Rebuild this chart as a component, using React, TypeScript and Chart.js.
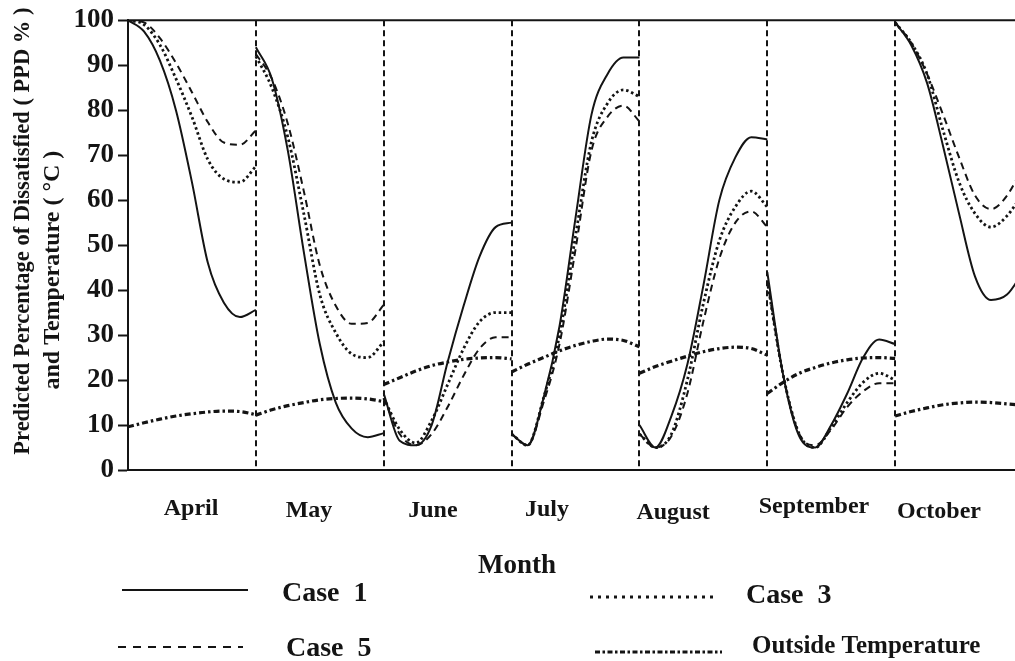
import React, { useEffect, useRef } from "react";
import { Chart, registerables } from "chart.js";

Chart.register(...registerables);

// ---------- data ----------
const months = ["April", "May", "June", "July", "August", "September", "October"];
const yTickValues = [0, 10, 20, 30, 40, 50, 60, 70, 80, 90, 100];

// nine readings per month, evenly spread from the first to the last day
const case1: number[][] = [
  [100, 97.5, 91, 80, 64, 46, 37.2, 34, 35.6],
  [94, 87, 71, 48.5, 28, 15, 9.2, 7.3, 8.2],
  [17, 6.5, 5.5, 10, 24, 36.5, 47.5, 54, 55],
  [8, 5.5, 16, 32, 56, 79, 88, 91.7, 91.7],
  [10, 5, 12, 23.5, 41, 60, 69.5, 74, 73.5],
  [44, 21, 7.5, 5, 10, 17, 25, 29, 28],
  [99.5, 94.5, 86, 72, 57, 43, 37.8, 39, 44],
];
const case3: number[][] = [
  [100, 99, 94.5, 87, 78.5, 69, 64.7, 64, 67.5],
  [92, 85, 74, 57, 39, 30.5, 25.8, 25, 28.5],
  [16, 9, 6, 11, 19, 27, 33, 35, 35],
  [8, 5.5, 16, 30, 52, 73, 81.5, 84.5, 83],
  [8, 5, 8, 20, 37, 51, 58.5, 62, 58.5],
  [42, 21, 8, 5, 9.5, 15, 19.5, 21.5, 20],
  [99.5, 95, 88, 75.5, 64, 57, 54, 56.5, 61.5],
];
const case5: number[][] = [
  [100, 99.5, 96, 90.5, 84, 77.3, 72.8, 72.3, 75.5],
  [92.5, 87, 77, 62, 45.5, 36.5, 32.5, 32.7, 36.7],
  [16, 8, 5.5, 8, 14, 21, 27, 29.5, 29.5],
  [8, 5.5, 15, 28, 49, 71, 78.5, 81, 77.5],
  [8, 5, 7.5, 17, 33, 47, 55, 57.5, 54],
  [42, 21, 8, 5.5, 9, 14, 17.5, 19.3, 19.3],
  [99.5, 95, 88, 79, 69.5, 61, 58, 61, 67.5],
];
const outsideTemp: number[][] = [
  [9.6, 10.5, 11.3, 12, 12.5, 12.9, 13.1, 13, 12.3],
  [12.2, 13.4, 14.3, 15, 15.6, 15.9, 16, 15.8, 15.2],
  [19, 20.5, 22, 23.2, 24, 24.6, 24.9, 25, 24.7],
  [21.8, 23.5, 25, 26.5, 27.7, 28.6, 29.1, 28.8, 27.4],
  [21.5, 23, 24.2, 25.3, 26.3, 27, 27.3, 27, 25.5],
  [17, 19.5, 21.5, 22.8, 23.8, 24.5, 24.9, 25, 24.8],
  [12, 13, 13.8, 14.5, 14.9, 15.1, 15, 14.7, 14.4],
];

const seriesNames = ["Case  1", "Case  3", "Case  5", "Outside Temperature"];

// ---------- layout / style ----------
const INK = "#141414";
const SERIF = "'Liberation Serif', 'Times New Roman', Times, serif";
const CANVAS_W = 1030;
const CANVAS_H = 661;
// where each month name sits, in month units along the x scale
const monthLabelAt = [0.493, 1.416, 2.385, 3.277, 4.263, 5.365, 6.343];
const monthLabelBaseline = [515, 517, 517, 516, 519, 513, 518];

const lineStyles = [
  { dash: [] as number[], width: 2, legendDash: [] as number[] },
  { dash: [2.5, 2.8], width: 2.8, legendDash: [3, 5] },
  { dash: [7, 5], width: 2, legendDash: [8, 7] },
  { dash: [6, 3, 2.5, 3], width: 3.2, legendDash: [5, 2.5, 2.5, 2.5] },
];

function toPoints(series: number[][]) {
  const pts: { x: number; y: number | null }[] = [];
  series.forEach((vals, m) => {
    vals.forEach((v, i) => pts.push({ x: m + i / (vals.length - 1), y: v }));
    if (m < series.length - 1) pts.push({ x: m + 1, y: null });
  });
  return pts;
}

const decorPlugin = {
  id: "decor",
  beforeDatasetsDraw(chart: any) {
    const { ctx, chartArea, scales } = chart;
    const x = scales.x;
    ctx.save();
    ctx.strokeStyle = INK;
    ctx.lineWidth = 2;
    ctx.beginPath();
    ctx.moveTo(chartArea.left, chartArea.top);
    ctx.lineTo(chartArea.right, chartArea.top);
    ctx.stroke();
    ctx.setLineDash([6, 4]);
    for (let m = 1; m < months.length; m++) {
      const px = Math.round(x.getPixelForValue(m));
      ctx.beginPath();
      ctx.moveTo(px, chartArea.top);
      ctx.lineTo(px, chartArea.bottom);
      ctx.stroke();
    }
    ctx.restore();
  },
  afterDraw(chart: any) {
    const { ctx, scales } = chart;
    const x = scales.x;
    const y = scales.y;
    ctx.save();
    ctx.fillStyle = INK;
    ctx.textAlign = "center";
    ctx.textBaseline = "alphabetic";

    // month names
    ctx.font = `bold 24px ${SERIF}`;
    months.forEach((name, i) => {
      ctx.fillText(name, x.getPixelForValue(monthLabelAt[i]), monthLabelBaseline[i]);
    });

    // axis title
    ctx.font = `bold 27px ${SERIF}`;
    ctx.fillText("Month", 517, 573);

    // y title (two rotated lines)
    ctx.textBaseline = "middle";
    const yMid = (y.top + y.bottom) / 2;
    ctx.save();
    ctx.font = `bold 22.5px ${SERIF}`;
    ctx.translate(23, yMid - 14);
    ctx.rotate(-Math.PI / 2);
    ctx.fillText("Predicted Percentage of Dissatisfied ( PPD % )", 0, 0);
    ctx.restore();
    ctx.save();
    ctx.font = `bold 24px ${SERIF}`;
    ctx.translate(53, yMid + 25);
    ctx.rotate(-Math.PI / 2);
    ctx.fillText("and Temperature ( \u00B0C )", 0, 0);
    ctx.restore();

    // legend
    const legend = [
      { x1: 122, x2: 248, ly: 590, tx: 282, ty: 601, size: 28 },
      { x1: 590, x2: 717, ly: 597, tx: 746, ty: 603, size: 28 },
      { x1: 118, x2: 243, ly: 647, tx: 286, ty: 656, size: 28 },
      { x1: 595, x2: 722, ly: 652, tx: 752, ty: 653, size: 25 },
    ];
    legend.forEach((l, i) => {
      const st = lineStyles[i];
      ctx.save();
      ctx.strokeStyle = INK;
      ctx.lineWidth = st.width;
      ctx.setLineDash(st.legendDash);
      ctx.beginPath();
      ctx.moveTo(l.x1, l.ly);
      ctx.lineTo(l.x2, l.ly);
      ctx.stroke();
      ctx.restore();
      ctx.textAlign = "left";
      ctx.textBaseline = "alphabetic";
      ctx.font = `bold ${l.size}px ${SERIF}`;
      ctx.fillText(seriesNames[i], l.tx, l.ty);
    });
    ctx.restore();
  },
};

export default function App() {
  const canvasRef = useRef<HTMLCanvasElement | null>(null);

  useEffect(() => {
    if (!canvasRef.current) return;
    const all = [case1, case3, case5, outsideTemp];
    const chart = new Chart(canvasRef.current, {
      type: "line",
      data: {
        datasets: all.map((s, i) => ({
          label: seriesNames[i],
          data: toPoints(s),
          borderColor: INK,
          borderWidth: lineStyles[i].width,
          borderDash: lineStyles[i].dash,
          pointRadius: 0,
          fill: false,
          spanGaps: false,
          cubicInterpolationMode: "monotone" as const,
        })),
      },
      options: {
        responsive: false,
        animation: false,
        devicePixelRatio: 1,
        layout: { padding: { left: 0, top: 20, right: 7, bottom: 0 } },
        plugins: {
          legend: { display: false },
          tooltip: { enabled: false },
        },
        scales: {
          x: {
            type: "linear",
            min: 0,
            max: months.length,
            grid: { display: false },
            ticks: { display: false },
            border: { display: true, color: INK, width: 2 },
            afterFit: (s: any) => {
              s.height = 191;
            },
          },
          y: {
            type: "linear",
            min: 0,
            max: 100,
            afterBuildTicks: (s: any) => {
              s.ticks = yTickValues.map((v) => ({ value: v }));
            },
            ticks: {
              color: INK,
              padding: 4,
              font: { family: SERIF, size: 27, weight: "bold" },
            },
            grid: {
              drawOnChartArea: false,
              drawTicks: true,
              tickLength: 10,
              tickWidth: 2,
              tickColor: INK,
              color: INK,
            },
            border: { display: true, color: INK, width: 2 },
            afterFit: (s: any) => {
              s.width = 128;
            },
          },
        },
      },
      plugins: [decorPlugin],
    });
    return () => chart.destroy();
  }, []);

  return (
    <div
      style={{
        position: "fixed",
        left: 0,
        top: 0,
        width: 1015,
        height: 661,
        overflow: "hidden",
        background: "#fff",
      }}
    >
      <canvas
        ref={canvasRef}
        width={CANVAS_W}
        height={CANVAS_H}
        style={{ display: "block", width: CANVAS_W, height: CANVAS_H }}
      />
    </div>
  );
}
